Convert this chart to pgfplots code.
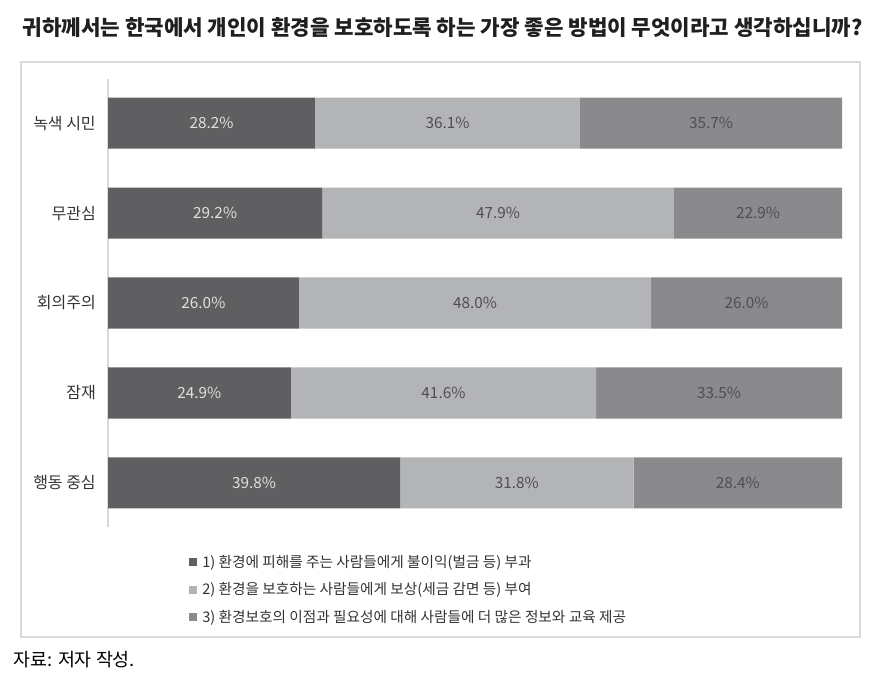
\documentclass[border=0pt]{standalone}
\usepackage{fontspec}
\usepackage{pgfplots}
\usepackage{pgfplotstable}
\pgfplotsset{compat=1.18}
\setmainfont{Noto Sans CJK KR}

\definecolor{darkbar}{HTML}{5F5F61}
\definecolor{lightbar}{HTML}{B3B4B6}
\definecolor{midbar}{HTML}{8A8A8C}
\definecolor{framegray}{HTML}{D9D9D9}
\definecolor{labeltxt}{HTML}{4F4F51}
\definecolor{cattxt}{HTML}{333333}

% shares (%) per group: 1) penalty, 2) reward, 3) information
\pgfplotstableread{
idx a b c
0 28.2 36.1 35.7
1 29.2 47.9 22.9
2 26.0 48.0 26.0
3 24.9 41.6 33.5
4 39.8 31.8 28.4
}\shares

\begin{document}
\begin{tikzpicture}
\path[use as bounding box] (0,0) rectangle (671.25pt,-514.5pt);
\draw[framegray, line width=1.1pt] (15.75pt,-46.5pt) rectangle (645pt,-477.75pt);
\node[font=\fontsize{15.9}{18}\selectfont\bfseries, text=black!88] at (332pt,-21pt)
  {귀하께서는 한국에서 개인이 환경을 보호하도록 하는 가장 좋은 방법이 무엇이라고 생각하십니까?};
\node[anchor=west, font=\fontsize{13.8}{16}\selectfont, inner sep=0pt] at (10pt,-495pt) {자료: 저자 작성.};

\begin{axis}[
    at={(81pt,-59.25pt)}, anchor=north west,
    width=550.5pt, height=336pt, scale only axis,
    xbar stacked, bar width=38.3pt,
    xmin=0, xmax=100,
    ymin=-0.49, ymax=4.49, y dir=reverse,
    ytick={0,1,2,3,4},
    yticklabels={녹색 시민,무관심,회의주의,잠재,행동 중심},
    yticklabel style={font=\fontsize{12}{14}\selectfont, text=cattxt, inner sep=0pt, xshift=-9pt},
    major tick length=0pt,
    axis x line=none,
    axis y line*=left,
    y axis line style={draw=framegray, line width=1.1pt},
    /pgf/number format/assume math mode=true,
    legend style={at={(0.104,-0.05)}, anchor=north west, draw=none, fill=none,
        font=\fontsize{11}{13}\selectfont, text=cattxt, row sep=6pt},
    legend cell align=left,
    legend image code/.code={\fill[#1, draw=none] (0pt,-3pt) rectangle (6pt,3pt);
        \path (8.25pt,0pt);},
    point meta=explicit,
    nodes near coords={\pgfmathprintnumber[fixed,fixed zerofill,precision=1]{\pgfplotspointmeta}\%},
]
\addplot[fill=darkbar, draw=none,
    every node near coord/.append style={anchor=center,
        font=\fontsize{11.5}{13}\selectfont, text=white!88!black}]
    table[x=a, y=idx, meta=a] {\shares};
\addplot[fill=lightbar, draw=none,
    every node near coord/.append style={anchor=center,
        font=\fontsize{11.5}{13}\selectfont, text=labeltxt}]
    table[x=b, y=idx, meta=b] {\shares};
\addplot[fill=midbar, draw=none,
    every node near coord/.append style={anchor=center,
        font=\fontsize{11.5}{13}\selectfont, text=labeltxt}]
    table[x=c, y=idx, meta=c] {\shares};
\legend{1) 환경에 피해를 주는 사람들에게 불이익(벌금 등) 부과,
        2) 환경을 보호하는 사람들에게 보상(세금 감면 등) 부여,
        3) 환경보호의 이점과 필요성에 대해 사람들에 더 많은 정보와 교육 제공}
\end{axis}
\end{tikzpicture}
\end{document}
